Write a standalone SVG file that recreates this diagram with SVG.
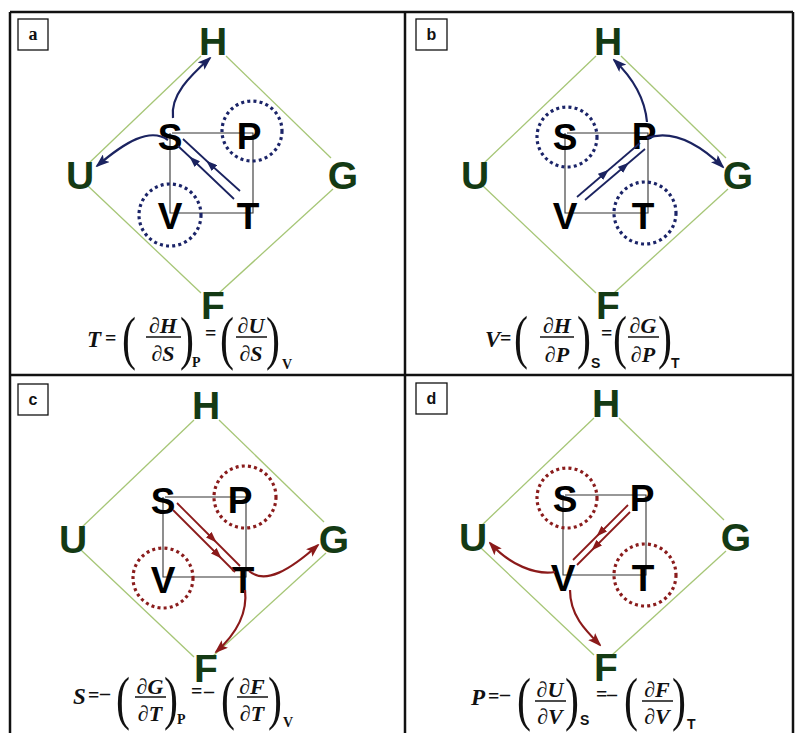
<svg xmlns="http://www.w3.org/2000/svg" width="795" height="733" viewBox="0 0 795 733">
<style>
.bg{fill:#fff}
.frame{stroke:#111;stroke-width:2.5;fill:none}
.lbl{fill:#fff;stroke:#111;stroke-width:1.3}
.lt{font-family:"Liberation Sans",Arial,sans-serif;font-weight:bold;font-size:16px;text-anchor:middle;fill:#111}
.lts{font-family:"Liberation Serif","Times New Roman",serif;font-weight:bold;font-size:18px;text-anchor:middle;fill:#111}
.dia{fill:none;stroke:#a6c676;stroke-width:1.3}
.sq{fill:none;stroke:#333;stroke-width:1.1}
.pot{font-family:"Liberation Sans",Arial,sans-serif;font-weight:bold;font-size:39px;fill:#143a14;text-anchor:middle}
.var{font-family:"Liberation Sans",Arial,sans-serif;font-weight:bold;font-size:37px;fill:#000;text-anchor:middle}
.cb{fill:none;stroke:#1b2468;stroke-width:3.2;stroke-dasharray:3 3.2}
.cr{fill:none;stroke:#8a1c1c;stroke-width:3.2;stroke-dasharray:3 3.2}
.ab{fill:none;stroke:#1b2360;stroke-width:2.2}
.ar{fill:none;stroke:#8b1a1a;stroke-width:2.2}
.pb{fill:none;stroke:#1b2360;stroke-width:1.8}
.pr{fill:none;stroke:#8b1a1a;stroke-width:1.8}
.eq{font-family:"Liberation Serif","Times New Roman",serif;font-weight:bold;font-style:italic;font-size:23px;fill:#111}
.op{font-family:"Liberation Serif","Times New Roman",serif;font-weight:bold;font-size:20px;fill:#111}
.fr{font-family:"Liberation Serif","Times New Roman",serif;font-weight:bold;font-style:italic;font-size:22px;fill:#111;text-anchor:middle}
.par{font-family:"Liberation Serif","Times New Roman",serif;font-size:60px;fill:#111}
.sub{font-family:"Liberation Serif","Times New Roman",serif;font-weight:bold;font-size:14px;fill:#111}
.subs{font-family:"Liberation Sans",Arial,sans-serif;font-weight:bold;font-size:14px;fill:#111}
.bar{stroke:#111;stroke-width:1.5}
</style>
<defs>
<marker id="ahB" markerWidth="14" markerHeight="10" refX="12" refY="5" orient="auto" markerUnits="userSpaceOnUse"><path d="M0,0 L14,5 L0,10 L3,5 z" fill="#1b2360"/></marker>
<marker id="mhB" markerWidth="11" markerHeight="8" refX="6" refY="4" orient="auto" markerUnits="userSpaceOnUse"><path d="M0,0 L11,4 L0,8 z" fill="#1b2360"/></marker>
<marker id="ahR" markerWidth="14" markerHeight="10" refX="12" refY="5" orient="auto" markerUnits="userSpaceOnUse"><path d="M0,0 L14,5 L0,10 L3,5 z" fill="#8b1a1a"/></marker>
<marker id="mhR" markerWidth="11" markerHeight="8" refX="6" refY="4" orient="auto" markerUnits="userSpaceOnUse"><path d="M0,0 L11,4 L0,8 z" fill="#8b1a1a"/></marker>
<g id="diamond">
<line class="dia" x1="88" y1="164" x2="201" y2="56"/>
<line class="dia" x1="226" y1="56" x2="331" y2="158"/>
<line class="dia" x1="333" y1="189" x2="219" y2="293"/>
<line class="dia" x1="201" y1="293" x2="88" y2="186"/>
</g>
<g id="square">
<path class="sq" d="M172,133 H253 V213 H170 V133"/>
</g>
</defs>
<rect class="bg" x="0" y="0" width="795" height="733"/>
<g id="frame">
<path class="frame" d="M10,12 H793 M10,12 V733 M405,12 V733 M10,375 H793 M793,12 V733"/>
<rect class="lbl" x="18" y="19" width="30" height="31"/>
<text class="lts" x="33" y="40">a</text>
<rect class="lbl" x="416" y="19" width="31" height="31"/>
<text class="lt" x="431.5" y="40">b</text>
<rect class="lbl" x="18" y="384" width="30" height="31"/>
<text class="lt" x="33" y="405">c</text>
<rect class="lbl" x="416" y="383" width="31" height="31"/>
<text class="lt" x="431.5" y="404">d</text>
</g>

<!-- Panel a -->
<g id="panel-a">
<g id="a-edges"><use href="#diamond"/><use href="#square"/></g>
<circle class="cb" cx="252" cy="131" r="30"/>
<circle class="cb" cx="170" cy="215" r="31"/>
<g id="a-H"><text class="pot" x="213" y="55">H</text></g>
<g id="a-U"><text class="pot" x="80" y="189">U</text></g>
<g id="a-G"><text class="pot" x="343" y="189">G</text></g>
<g id="a-F"><text class="pot" x="213" y="319">F</text></g>
<g id="a-S"><text class="var" x="170" y="150">S</text></g>
<g id="a-P"><text class="var" x="249" y="149">P</text></g>
<g id="a-V"><text class="var" x="170" y="229">V</text></g>
<g id="a-T"><text class="var" x="248" y="229">T</text></g>
<g id="a-connectors">
<path class="ab" d="M173,118 C170,95 190,76 210,58" marker-end="url(#ahB)"/>
<path class="ab" d="M168,140 C150,127 125,142 97,166" marker-end="url(#ahB)"/>
<path class="pb" d="M240,191 L210,164 L183,139" marker-mid="url(#mhB)"/>
<path class="pb" d="M234,199 L193,160 L178,146" marker-mid="url(#mhB)"/>
</g>
</g>

<!-- Panel b -->
<g id="panel-b" transform="translate(395,0)">
<g id="b-edges"><use href="#diamond"/><use href="#square"/></g>
<circle class="cb" cx="172" cy="137" r="30"/>
<circle class="cb" cx="250" cy="213" r="31"/>
<g id="b-H"><text class="pot" x="213" y="55">H</text></g>
<g id="b-U"><text class="pot" x="80" y="189">U</text></g>
<g id="b-G"><text class="pot" x="343" y="189">G</text></g>
<g id="b-F"><text class="pot" x="213" y="319">F</text></g>
<g id="b-S"><text class="var" x="170" y="150">S</text></g>
<g id="b-P"><text class="var" x="249" y="149">P</text></g>
<g id="b-V"><text class="var" x="170" y="229">V</text></g>
<g id="b-T"><text class="var" x="248" y="229">T</text></g>
<g id="b-connectors">
<path class="ab" d="M252,122 C250,100 238,78 219,60" marker-end="url(#ahB)"/>
<path class="ab" d="M252,138 C275,130 300,140 328,167" marker-end="url(#ahB)"/>
<path class="pb" d="M182,197 L210,173 L245,143" marker-mid="url(#mhB)"/>
<path class="pb" d="M190,200 L230,166 L250,149" marker-mid="url(#mhB)"/>
</g>
</g>

<!-- Panel c -->
<g id="panel-c" transform="translate(-7,364)">
<g id="c-edges"><use href="#diamond"/><use href="#square"/></g>
<circle class="cr" cx="252" cy="133" r="31"/>
<circle class="cr" cx="170" cy="214" r="30"/>
<g id="c-H"><text class="pot" x="213" y="55">H</text></g>
<g id="c-U"><text class="pot" x="80" y="189">U</text></g>
<g id="c-G"><text class="pot" x="341" y="189">G</text></g>
<g id="c-F"><text class="pot" x="213" y="318">F</text></g>
<g id="c-S"><text class="var" x="170" y="150">S</text></g>
<g id="c-P"><text class="var" x="247" y="149">P</text></g>
<g id="c-V"><text class="var" x="170" y="229">V</text></g>
<g id="c-T"><text class="var" x="250" y="229">T</text></g>
<g id="c-connectors">
<path class="pr" d="M184,139 L220,175 L247,202" marker-mid="url(#mhR)"/>
<path class="pr" d="M180,146 L225,191 L242,208" marker-mid="url(#mhR)"/>
<path class="ar" d="M256,207 C272,221 297,206 325,181" marker-end="url(#ahR)"/>
<path class="ar" d="M252,226 C255,251 242,271 223,288" marker-end="url(#ahR)"/>
</g>
</g>

<!-- Panel d -->
<g id="panel-d" transform="translate(393,362)">
<g id="d-edges"><use href="#diamond"/><use href="#square"/></g>
<circle class="cr" cx="174" cy="136" r="30"/>
<circle class="cr" cx="252" cy="213" r="31"/>
<g id="d-H"><text class="pot" x="213" y="55">H</text></g>
<g id="d-U"><text class="pot" x="80" y="189">U</text></g>
<g id="d-G"><text class="pot" x="343" y="189">G</text></g>
<g id="d-F"><text class="pot" x="213" y="319">F</text></g>
<g id="d-S"><text class="var" x="172" y="150">S</text></g>
<g id="d-P"><text class="var" x="249" y="149">P</text></g>
<g id="d-V"><text class="var" x="170" y="229">V</text></g>
<g id="d-T"><text class="var" x="250" y="229">T</text></g>
<g id="d-connectors">
<path class="pr" d="M235,143 L207,171 L180,198" marker-mid="url(#mhR)"/>
<path class="pr" d="M237,150 L202,185 L184,203" marker-mid="url(#mhR)"/>
<path class="ar" d="M162,210 C142,213 117,203 97,181" marker-end="url(#ahR)"/>
<path class="ar" d="M177,228 C177,253 192,268 207,283" marker-end="url(#ahR)"/>
</g>
</g>

<!-- Equations -->
<g id="eq-a">
<text class="eq" x="87" y="347">T</text><text class="op" x="105" y="345">=</text>
<text class="par" transform="translate(122,358) scale(0.7,1)">(</text>
<text class="fr" x="163" y="333">∂H</text><line class="bar" x1="146" y1="337" x2="181" y2="337"/><text class="fr" x="163" y="361">∂S</text>
<text class="par" transform="translate(180,358) scale(0.7,1)">)</text>
<text class="sub" x="192" y="367">P</text>
<text class="op" x="205" y="340">=</text>
<text class="par" transform="translate(220,358) scale(0.7,1)">(</text>
<text class="fr" x="251" y="333">∂U</text><line class="bar" x1="236" y1="337" x2="267" y2="337"/><text class="fr" x="251" y="361">∂S</text>
<text class="par" transform="translate(266,358) scale(0.7,1)">)</text>
<text class="sub" x="282" y="369">V</text>
</g>
<g id="eq-b">
<text class="eq" x="485" y="347">V</text><text class="op" x="500" y="345">=</text>
<text class="par" transform="translate(514,357) scale(0.7,1)">(</text>
<text class="fr" x="557" y="333">∂H</text><line class="bar" x1="540" y1="337" x2="574" y2="337"/><text class="fr" x="557" y="362">∂P</text>
<text class="par" transform="translate(577,357) scale(0.7,1)">)</text>
<text class="subs" x="591" y="368">S</text>
<text class="op" x="601" y="340">=</text>
<text class="par" transform="translate(613,357) scale(0.7,1)">(</text>
<text class="fr" x="643" y="333">∂G</text><line class="bar" x1="628" y1="337" x2="659" y2="337"/><text class="fr" x="643" y="362">∂P</text>
<text class="par" transform="translate(658,357) scale(0.7,1)">)</text>
<text class="subs" x="671" y="368">T</text>
</g>
<g id="eq-c">
<text class="eq" x="73" y="704">S</text><text class="op" x="88" y="702">=</text><text class="op" x="100" y="700">–</text>
<text class="par" transform="translate(116,718) scale(0.7,1)">(</text>
<text class="fr" x="150" y="694">∂G</text><line class="bar" x1="135" y1="697" x2="166" y2="697"/><text class="fr" x="150" y="721">∂T</text>
<text class="par" transform="translate(164,718) scale(0.7,1)">)</text>
<text class="sub" x="177" y="724">P</text>
<text class="op" x="191" y="698">=</text><text class="op" x="204" y="698">–</text>
<text class="par" transform="translate(221,718) scale(0.7,1)">(</text>
<text class="fr" x="252" y="694">∂F</text><line class="bar" x1="237" y1="697" x2="268" y2="697"/><text class="fr" x="252" y="721">∂T</text>
<text class="par" transform="translate(268,718) scale(0.7,1)">)</text>
<text class="sub" x="283" y="727">V</text>
</g>
<g id="eq-d">
<text class="eq" x="471" y="705">P</text><text class="op" x="488" y="703">=</text><text class="op" x="500" y="701">–</text>
<text class="par" transform="translate(517,719) scale(0.7,1)">(</text>
<text class="fr" x="550" y="697">∂U</text><line class="bar" x1="535" y1="701" x2="566" y2="701"/><text class="fr" x="550" y="724">∂V</text>
<text class="par" transform="translate(565,719) scale(0.7,1)">)</text>
<text class="subs" x="580" y="725">S</text>
<text class="op" x="596" y="701">=</text><text class="op" x="607" y="701">–</text>
<text class="par" transform="translate(624,719) scale(0.7,1)">(</text>
<text class="fr" x="657" y="697">∂F</text><line class="bar" x1="642" y1="701" x2="673" y2="701"/><text class="fr" x="657" y="724">∂V</text>
<text class="par" transform="translate(672,719) scale(0.7,1)">)</text>
<text class="subs" x="687" y="729">T</text>
</g>
</svg>
